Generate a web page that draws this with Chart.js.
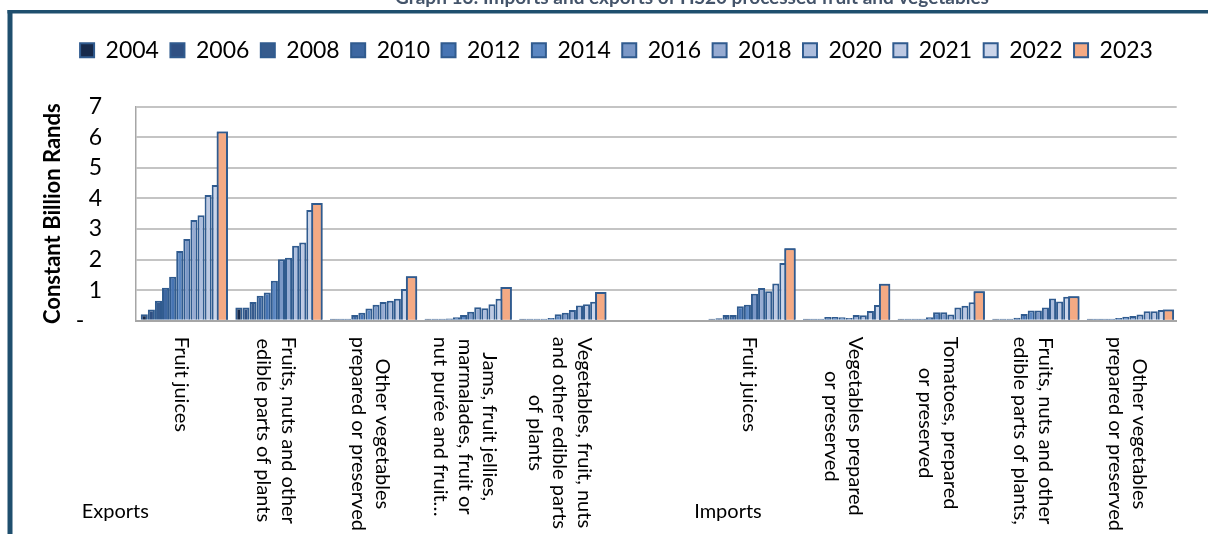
<!DOCTYPE html>
<html>
<head>
<meta charset="utf-8">
<script src="https://cdn.jsdelivr.net/npm/chart.js@4.4.1/dist/chart.umd.min.js"></script>
<style>
  html, body { margin: 0; padding: 0; background: #ffffff; }
</style>
</head>
<body>
<canvas id="hs20-chart" width="1208" height="534"></canvas>
<script>
const years = ["2004", "2006", "2008", "2010", "2012", "2014", "2016", "2018", "2020", "2021", "2022", "2023"];

// category names, one line per entry (drawn turned on their side)
const categories = [
  ["Fruit juices"],
  ["Fruits, nuts and other", "edible parts of plants"],
  ["Other vegetables", "prepared or preserved"],
  ["Jams, fruit jellies,", "marmalades, fruit or", "nut purée and fruit…"],
  ["Vegetables, fruit, nuts", "and other edible parts", "of plants"],
  [""],
  ["Fruit juices"],
  ["Vegetables prepared", "or preserved"],
  ["Tomatoes, prepared", "or preserved"],
  ["Fruits, nuts and other", "edible parts of plants,"],
  ["Other vegetables", "prepared or preserved"]
];

const groupNames = ["Exports", "Imports"];

// constant billion rands, one value per year
const exportsFruitJuices = [0.21, 0.37, 0.65, 1.08, 1.44, 2.28, 2.67, 3.29, 3.45, 4.11, 4.44, 6.19];
const exportsFruitsNuts = [0.43, 0.43, 0.61, 0.82, 0.92, 1.31, 2.01, 2.06, 2.45, 2.56, 3.62, 3.85];
const exportsOtherVeg = [0.01, 0.02, 0.04, 0.19, 0.26, 0.40, 0.52, 0.61, 0.65, 0.72, 1.04, 1.45];
const exportsJams = [0.01, 0.01, 0.03, 0.07, 0.11, 0.19, 0.29, 0.44, 0.41, 0.54, 0.72, 1.10];
const exportsVegFruitNuts = [0.01, 0.02, 0.04, 0.06, 0.09, 0.21, 0.26, 0.35, 0.50, 0.54, 0.62, 0.94];
const noTrade = [];
const importsFruitJuices = [0.03, 0.08, 0.19, 0.19, 0.47, 0.52, 0.88, 1.07, 0.96, 1.22, 1.89, 2.37];
const importsVegPrepared = [0.01, 0.03, 0.05, 0.12, 0.12, 0.11, 0.09, 0.19, 0.18, 0.32, 0.51, 1.21];
const importsTomatoes = [0.01, 0.01, 0.03, 0.04, 0.11, 0.28, 0.28, 0.20, 0.43, 0.49, 0.60, 0.96];
const importsFruitsNuts = [0.01, 0.04, 0.05, 0.10, 0.22, 0.33, 0.33, 0.43, 0.73, 0.63, 0.78, 0.80];
const importsOtherVeg = [0.01, 0.02, 0.03, 0.05, 0.09, 0.13, 0.15, 0.20, 0.31, 0.31, 0.35, 0.37];

const yTicks = [0, 1, 2, 3, 4, 5, 6, 7];

const byCategory = [
  exportsFruitJuices, exportsFruitsNuts, exportsOtherVeg, exportsJams, exportsVegFruitNuts,
  noTrade,
  importsFruitJuices, importsVegPrepared, importsTomatoes, importsFruitsNuts, importsOtherVeg
];

const fills = ["#172a4b", "#2f5083", "#365b8d", "#3d67a1", "#4674b3", "#5b87c2",
               "#7b98c7", "#96abd2", "#acbddd", "#bdc9e3", "#cbd5ea", "#f4aa84"];

const datasets = years.map((year, j) => ({
  label: year,
  data: byCategory.map((vals) => (vals.length ? vals[j] : null)),
  backgroundColor: fills[j],
  borderColor: "#305b8f",
  borderWidth: 2,
  barPercentage: j === years.length - 1 ? 1.6 : 1,
  categoryPercentage: 0.9,
  minBarLength: 2,
  xAxisID: "x",
  yAxisID: "y"
}));

// frame, heading (cut by the top edge) and white background
const framePlugin = {
  id: "frame",
  beforeDraw(chart) {
    const ctx = chart.ctx;
    ctx.save();
    ctx.fillStyle = "#ffffff";
    ctx.fillRect(0, 0, chart.width, chart.height);
    ctx.fillStyle = "#1f4f6e";
    ctx.fillRect(7.5, 10, chart.width, 3.5);
    ctx.fillRect(7.5, 10, 5, chart.height);
    ctx.fillStyle = "#44546a";
    ctx.font = "bold 19px Lato";
    ctx.textAlign = "center";
    ctx.textBaseline = "alphabetic";
    ctx.fillText("Graph 13: Imports and exports of HS20 processed fruit and vegetables", 692, 4);
    ctx.restore();
  }
};

// 2023 bars are wider and sit over their neighbours
const lastOnTop = {
  id: "lastOnTop",
  afterDatasetsDraw(chart) {
    chart.getDatasetMeta(years.length - 1).controller.draw();
  }
};

// category names read top to bottom, plus the Exports / Imports labels
const categoryLabels = {
  id: "categoryLabels",
  afterDraw(chart) {
    const ctx = chart.ctx;
    const xs = chart.scales.x;
    ctx.save();
    ctx.fillStyle = "#000000";
    ctx.font = "20px Lato";
    ctx.textAlign = "center";
    ctx.textBaseline = "middle";
    xs.getLabels().forEach((lines, i) => {
      if (!lines.join("")) return;
      const w = Math.max(...lines.map((l) => ctx.measureText(l).width));
      ctx.save();
      ctx.translate(xs.getPixelForValue(i) - 2, xs.top + 16);
      ctx.rotate(Math.PI / 2);
      lines.forEach((line, k) => {
        ctx.fillText(line, w / 2, (k - (lines.length - 1) / 2) * 24.5);
      });
      ctx.restore();
    });
    ctx.fillText(groupNames[0], xs.getPixelForValue(0) - 68, 512);
    ctx.fillText(groupNames[1], xs.getPixelForValue(6) - 23, 512);
    ctx.restore();
  }
};

new Chart(document.getElementById("hs20-chart"), {
  type: "bar",
  data: {
    labels: categories,
    datasets: datasets
  },
  options: {
    responsive: false,
    animation: false,
    layout: {
      padding: { top: 27.3, left: 25, right: 0, bottom: 0 }
    },
    scales: {
      x: {
        type: "category",
        grid: { display: false },
        border: { color: "#a6a6a6", width: 2 },
        ticks: { display: false },
        afterFit(scale) {
          scale.height = 213.3;
        }
      },
      y: {
        min: 0,
        max: 7,
        afterBuildTicks(scale) {
          scale.ticks = yTicks.map((v) => ({ value: v }));
        },
        grid: { color: "#c4c4c4", lineWidth: 2, drawTicks: false },
        border: { color: "#a6a6a6", width: 1.5 },
        ticks: {
          autoSkip: false,
          padding: 34,
          color: "#000000",
          font: { family: "Lato", size: 23 },
          callback: (v) => (v === 0 ? "-\u00a0\u00a0\u00a0" : v)
        },
        title: {
          display: true,
          text: "Constant Billion Rands",
          color: "#000000",
          font: { family: "Lato", size: 22, weight: "bold" },
          padding: { top: 14.3, bottom: 0 }
        },
        afterFit(scale) {
          scale.width = 111;
        }
      },
      // empty strips that only hold space above and right of the plot
      xTop: {
        type: "linear",
        position: "top",
        grid: { display: false },
        border: { display: false },
        ticks: { display: false },
        afterFit(scale) {
          scale.height = 34.9;
        }
      },
      yRight: {
        type: "linear",
        position: "right",
        grid: { display: false },
        border: { display: false },
        ticks: { display: false },
        afterFit(scale) {
          scale.width = 31.3;
        }
      }
    },
    plugins: {
      legend: {
        position: "top",
        labels: {
          boxWidth: 14,
          boxHeight: 14,
          padding: 11.5,
          color: "#000000",
          font: { family: "Lato", size: 23 }
        }
      },
      tooltip: { enabled: false }
    }
  },
  plugins: [framePlugin, lastOnTop, categoryLabels]
});
</script>
</body>
</html>
